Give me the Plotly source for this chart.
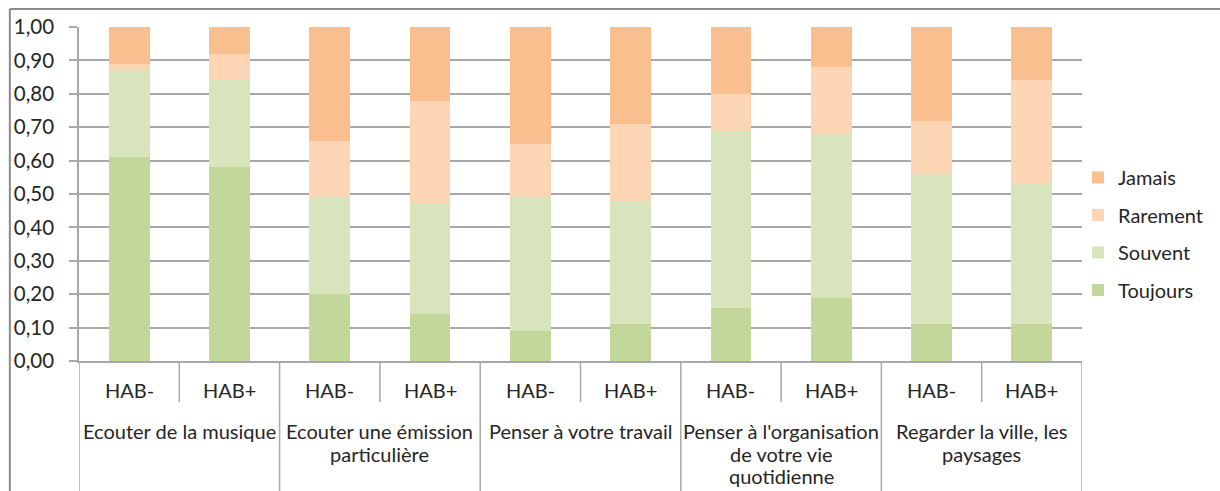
import plotly.graph_objects as go

# Activities (group labels, wrapped as printed under the axis)
groups = [
    ["Ecouter de la musique"],
    ["Ecouter une émission", "particulière"],
    ["Penser à votre travail"],
    ["Penser à l'organisation", "de votre vie", "quotidienne"],
    ["Regarder la ville, les", "paysages"],
]
subgroups = ["HAB-", "HAB+"]

# Share of answers per bar (HAB-, HAB+ for each activity)
toujours = [0.61, 0.58, 0.20, 0.14, 0.09, 0.11, 0.16, 0.19, 0.11, 0.11]
souvent = [0.26, 0.26, 0.29, 0.33, 0.40, 0.37, 0.53, 0.49, 0.45, 0.42]
rarement = [0.02, 0.08, 0.17, 0.31, 0.16, 0.23, 0.11, 0.20, 0.16, 0.31]
jamais = [0.11, 0.08, 0.34, 0.22, 0.35, 0.29, 0.20, 0.12, 0.28, 0.16]

series = [
    ("Toujours", toujours, "#c4d79b"),
    ("Souvent", souvent, "#d8e4bc"),
    ("Rarement", rarement, "#fcd5b4"),
    ("Jamais", jamais, "#fabf8f"),
]

FONT = "Lato, Calibri, sans-serif"
TEXT = "#262626"
GRID = "#a8a8a8"

# one unique category key per bar
keys = [f"{' '.join(g)} / {s}" for g in groups for s in subgroups]

fig = go.Figure()
for rank, (name, vals, color) in enumerate(series):
    fig.add_trace(go.Bar(
        x=keys, y=vals, name=name, legendgroup=name,
        legendrank=len(series) - rank,
        marker=dict(color=color, line=dict(width=0)),
    ))

# two-level category labels under the axis
W, H = 1220, 491
ML, MR, MT, MB = 79, 133, 27, 130
ph = H - MT - MB


def py(px):
    """pixel row -> paper y"""
    return (H - MB - px) / ph


annotations = []
shapes = []
n = len(keys)
for i, k in enumerate(keys):
    annotations.append(dict(
        x=k, xref="x", y=py(390), yref="paper", text=subgroups[i % 2],
        showarrow=False, yanchor="middle", xanchor="center",
        font=dict(family=FONT, size=20, color=TEXT),
    ))
for gi, lines in enumerate(groups):
    cx = gi * 2 + 0.5
    for li, line in enumerate(lines):
        annotations.append(dict(
            x=cx, xref="x", y=py(431 + li * 22.5), yref="paper", text=line,
            showarrow=False, yanchor="middle", xanchor="center",
            font=dict(family=FONT, size=20, color=TEXT),
        ))

# dividers: short between sub-categories, long between activities
for b in range(n + 1):
    xb = b - 0.5
    if b % 2 == 0:
        y1 = py(495)
    else:
        y1 = py(402)
    shapes.append(dict(type="line", xref="x", yref="paper", x0=xb, x1=xb,
                       y0=0, y1=y1, line=dict(color=GRID, width=1.5)))

# outer chart frame (top and left edges)
fx0 = (9.5 - ML) / (W - ML - MR)
fy = py(9)
shapes.append(dict(type="line", xref="paper", yref="paper", x0=fx0, x1=1.3,
                   y0=fy, y1=fy, line=dict(color="#8a8a8a", width=2)))
shapes.append(dict(type="line", xref="paper", yref="paper", x0=fx0, x1=fx0,
                   y0=fy, y1=py(500), line=dict(color="#8a8a8a", width=2)))

fig.update_layout(
    width=W, height=H,
    margin=dict(l=ML, r=MR, t=MT, b=MB, pad=0),
    barmode="stack", bargap=0.593,
    plot_bgcolor="white", paper_bgcolor="white",
    separators=", ",
    font=dict(family=FONT, size=20, color=TEXT),
    showlegend=True,
    legend=dict(
        traceorder="grouped", tracegroupgap=8.5,
        x=(1083 - ML) / (W - ML - MR), xanchor="left",
        y=py(158), yanchor="top",
        font=dict(family=FONT, size=20, color=TEXT),
        bgcolor="rgba(0,0,0,0)",
    ),
    annotations=annotations,
    shapes=shapes,
)
fig.update_xaxes(
    type="category", showticklabels=False, ticks="",
    showgrid=False, showline=True, linecolor=GRID, linewidth=1.5,
    range=[-0.5, n - 0.5], zeroline=False,
)
fig.update_yaxes(
    range=[0, 1.0001], dtick=0.1, tick0=0, tickformat=".2f",
    showgrid=True, gridcolor=GRID, gridwidth=1.5,
    ticks="outside", ticklen=8, tickcolor=GRID, tickwidth=1.5,
    showline=True, linecolor=GRID, linewidth=1.5,
    zeroline=False, ticklabelstandoff=11,
    tickfont=dict(family=FONT, size=20.5, color=TEXT),
)

fig.write_html("out.html")
